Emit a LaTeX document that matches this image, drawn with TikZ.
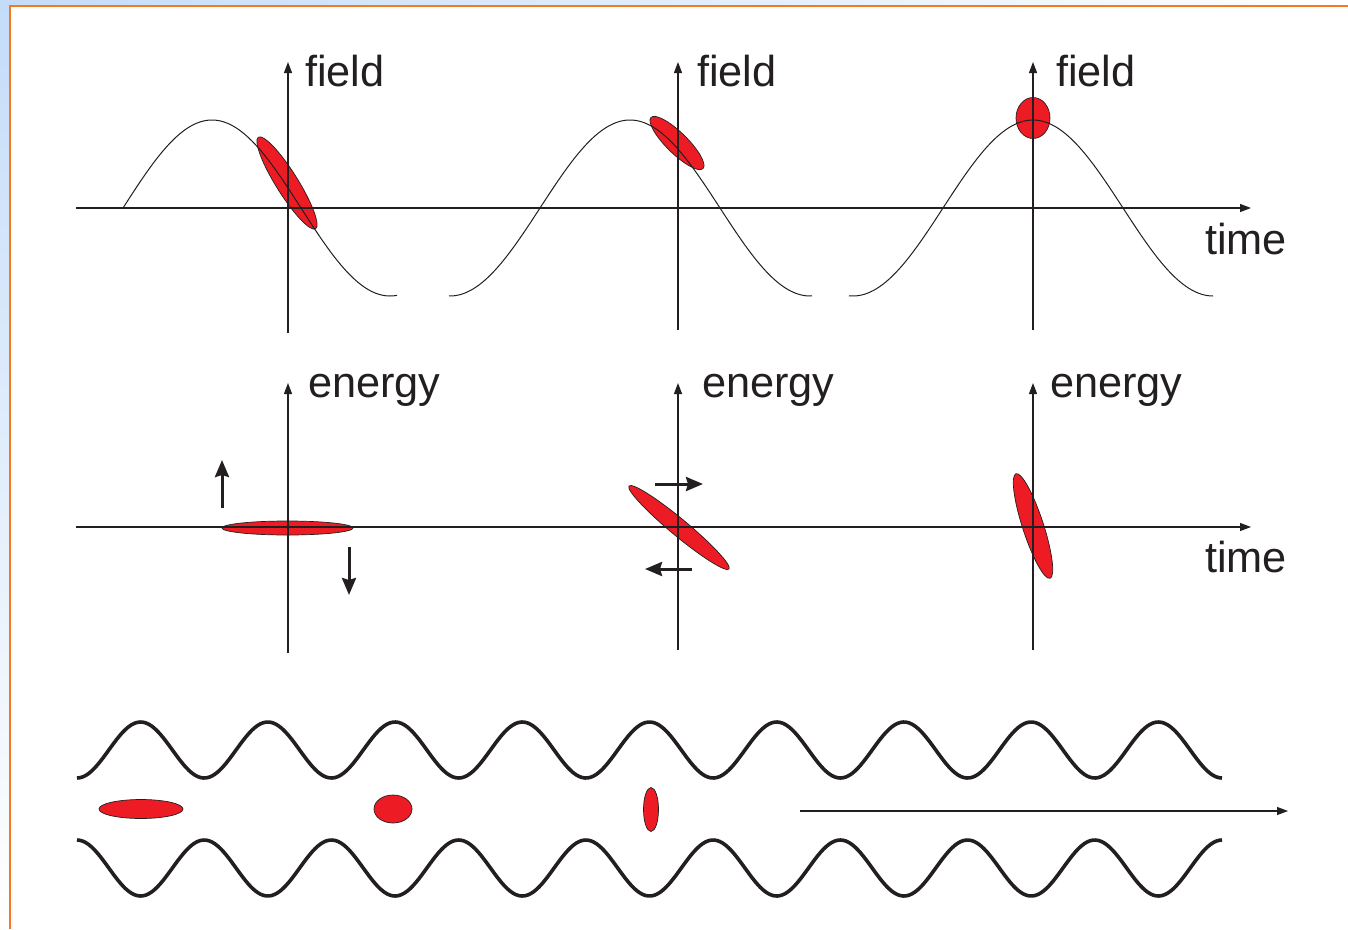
\documentclass[tikz,border=0pt]{standalone}
\usepackage{fontspec}
\setmainfont{Liberation Sans}
\usetikzlibrary{arrows.meta}
\definecolor{ink}{HTML}{231F20}
\definecolor{redfill}{HTML}{ED1C24}
\definecolor{frame}{HTML}{F47920}
\definecolor{bgblue}{HTML}{C4DCF8}
\begin{document}
\begin{tikzpicture}[x=1pt,y=-1pt,
  axis/.style={draw=ink, line width=1.2pt, -{Triangle[length=11pt,width=8pt]}},
  wave/.style={draw=ink, line width=1pt},
  blob/.style={fill=redfill, draw=ink, line width=0.7pt},
  big/.style={draw=ink, line width=3pt, -{Stealth[length=17pt,width=14pt,inset=2pt]}},
  tube/.style={draw=ink, line width=3.6pt},
  lbl/.style={anchor=base west, inner sep=0pt, text=ink, font=\fontsize{43.3}{52}\selectfont}]
\useasboundingbox (0,0) rectangle (1348,929);
% background and frame
\shade[top color=bgblue, bottom color=white] (0,0) rectangle (10,929);
\shade[left color=bgblue, right color=white] (0,0) rectangle (1348,6);
\fill[white] (10,6) rectangle (1348,929);
\draw[frame, line width=2pt] (10,929) -- (10,6) -- (1348,6);

% ---------- top panel ----------
\path[blob, rotate around={-58:(287,183)}] (287,183) ellipse[x radius=54, y radius=11];
\path[blob, rotate around={-44.5:(677,143)}] (677,143) ellipse[x radius=36.5, y radius=10.5];
\path[blob] (1033,118) ellipse[x radius=17, y radius=20.5];

\draw[wave] plot[domain=123:397, samples=120] (\x, {208-88*cos((\x-212)*1.0112)});
\draw[wave] plot[domain=449:812, samples=120] (\x, {208-88*cos((\x-630))});
\draw[wave] plot[domain=849:1213, samples=120] (\x, {208-88*cos((\x-1033))});

\draw[axis] (76,208) -- (1251,208);
\draw[axis] (288,333) -- (288,62);
\draw[axis] (678,330) -- (678,62);
\draw[axis] (1033,330) -- (1033,62);

\node[lbl] (f1) at (305,86) {field};
\node[lbl] (f2) at (697,86) {field};
\node[lbl] (f3) at (1056,86) {field};
\node[lbl] (t1) at (1205,254) {time};

% ---------- middle panel ----------
\path[blob] (287.5,528) ellipse[x radius=65.5, y radius=7];
\path[blob, rotate around={-39.7:(679,527.5)}] (679,527.5) ellipse[x radius=65, y radius=8.5];
\path[blob, rotate around={-72:(1033,526)}] (1033,526) ellipse[x radius=55, y radius=10.5];

\draw[axis] (76,527) -- (1251,527);
\draw[axis] (288,653) -- (288,383);
\draw[axis] (678,650) -- (678,383);
\draw[axis] (1033,650) -- (1033,383);

\draw[big] (222,508) -- (222,460);
\draw[big] (349,547) -- (349,595);
\draw[big] (655,484) -- (703,484);
\draw[big] (692,569) -- (645,569);

\node[lbl] (e1) at (308,397) {energy};
\node[lbl] (e2) at (702,397) {energy};
\node[lbl] (e3) at (1050,397) {energy};
\node[lbl] (t2) at (1205,572) {time};

% ---------- bottom panel ----------
\draw[tube] plot[domain=77:1222, samples=400] (\x, {750+28*cos((\x-77)*2.8297)});
\draw[tube] plot[domain=77:1222, samples=400] (\x, {868-28*cos((\x-77)*2.8297)});

\path[blob] (141,809) ellipse[x radius=42, y radius=9.5];
\path[blob] (393,809) ellipse[x radius=19, y radius=14];
\path[blob] (651,809.5) ellipse[x radius=7.5, y radius=22];

\draw[axis] (800,811) -- (1288,811);
\end{tikzpicture}
\end{document}
